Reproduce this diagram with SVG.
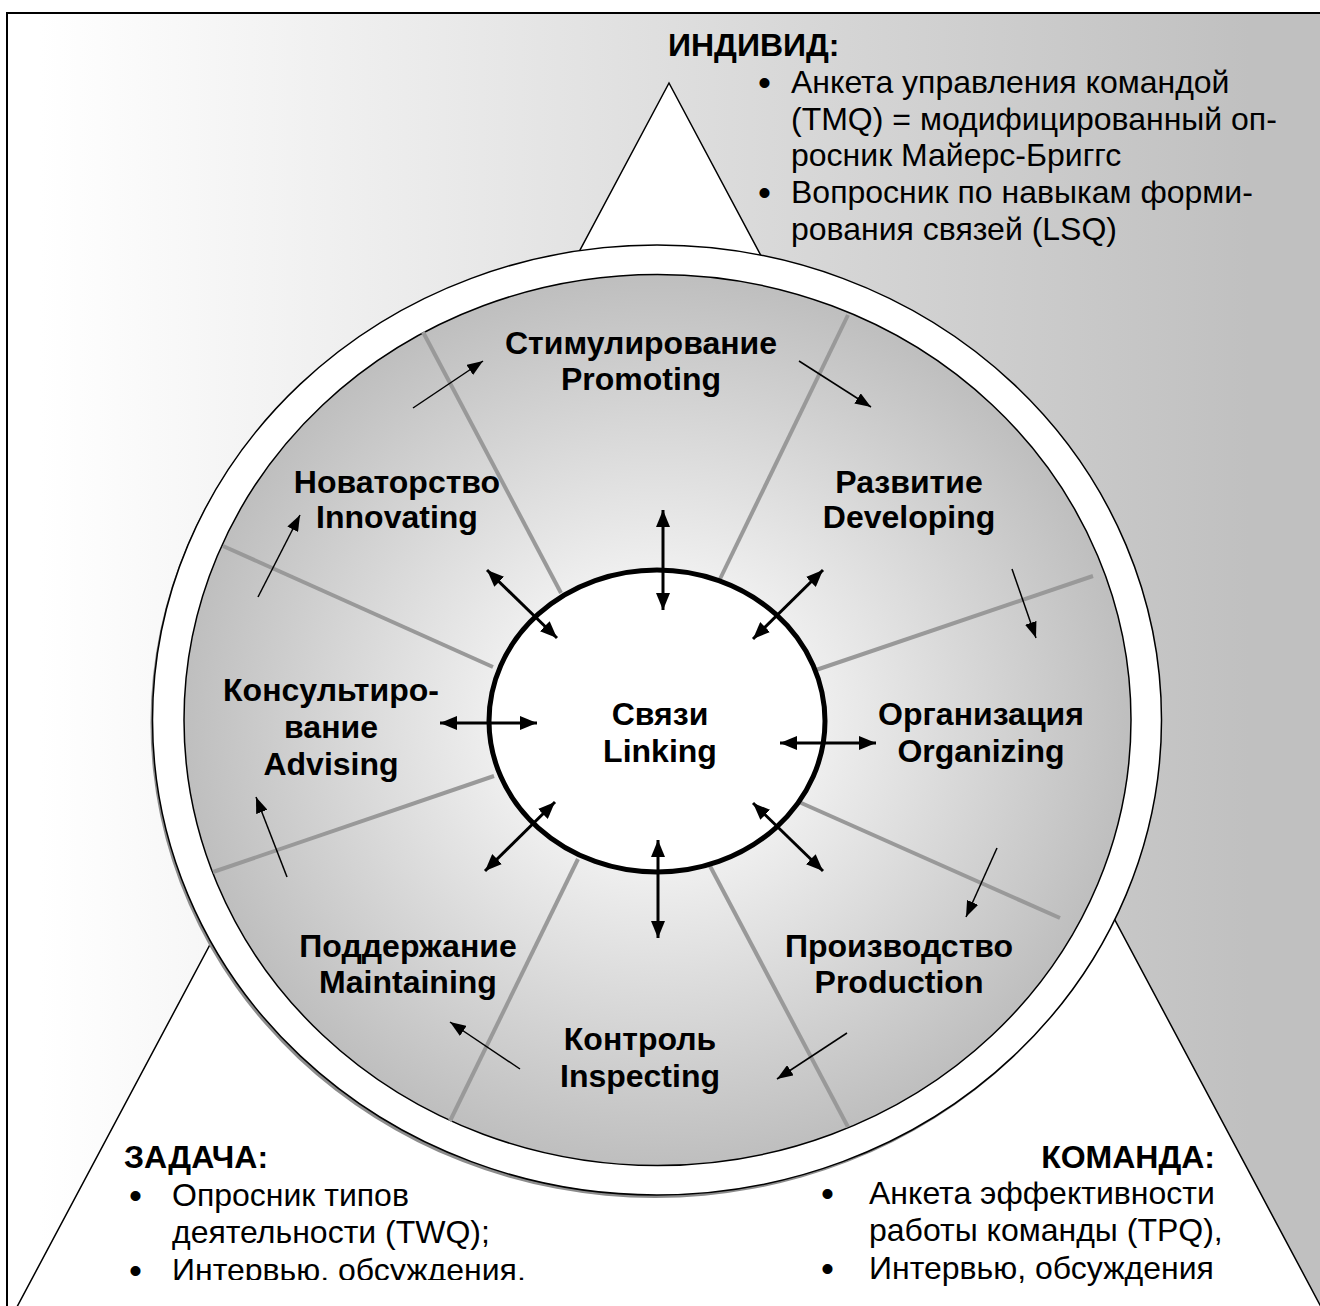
<svg xmlns="http://www.w3.org/2000/svg" width="1320" height="1306" viewBox="0 0 1320 1306">
  <style>
    .lbl { font-family: "Liberation Sans", Arial, sans-serif; font-weight: bold; font-size: 32px; fill: #000; text-anchor: middle; }
    .hdr { font-family: "Liberation Sans", Arial, sans-serif; font-weight: bold; font-size: 32px; fill: #000; }
    .txt { font-family: "Liberation Sans", Arial, sans-serif; font-size: 32px; fill: #000; }
    .bul { font-family: "Liberation Sans", Arial, sans-serif; font-size: 37px; fill: #000; }
    .spoke { stroke: #999999; stroke-width: 4; fill: none; }
    .flow { stroke: #000; stroke-width: 1.5; fill: none; marker-end: url(#head1); }
    .link { stroke: #000; stroke-width: 3; fill: none; marker-start: url(#head2); marker-end: url(#head2); }
  </style>
  <defs>
    <linearGradient id="bg" gradientUnits="userSpaceOnUse" x1="40" y1="0" x2="1250" y2="0">
      <stop offset="0" stop-color="#ffffff"/>
      <stop offset="1" stop-color="#c0c0c0"/>
    </linearGradient>
    <radialGradient id="disk" gradientUnits="userSpaceOnUse" cx="657" cy="720" r="470" gradientTransform="translate(657 720) scale(1 0.94) translate(-657 -720)">
      <stop offset="0" stop-color="#ffffff"/>
      <stop offset="0.3" stop-color="#f2f2f2"/>
      <stop offset="1" stop-color="#bfbfbf"/>
    </radialGradient>
    <marker id="head1" markerUnits="userSpaceOnUse" markerWidth="16" markerHeight="12" refX="16" refY="6" orient="auto">
      <path d="M0,0 L16,6 L0,12 z" fill="#000"/>
    </marker>
    <marker id="head2" markerUnits="userSpaceOnUse" markerWidth="17" markerHeight="14" refX="17" refY="7" orient="auto-start-reverse">
      <path d="M0,0 L17,7 L0,14 z" fill="#000"/>
    </marker>
    <clipPath id="cutTask">
      <rect x="0" y="0" width="660" height="1280"/>
    </clipPath>
  </defs>

  <g id="background">
    <rect x="7" y="13" width="1340" height="1320" fill="url(#bg)" stroke="#000" stroke-width="2"/>
  </g>

  <g id="triangle">
    <polygon points="669,83 10,1320 1328,1320" fill="#ffffff" stroke="#000" stroke-width="1.5"/>
  </g>

  <g id="wheel">
    <ellipse cx="655" cy="723" rx="504.5" ry="475" fill="#8c8c8c"/>
    <ellipse cx="657" cy="720" rx="504.5" ry="475" fill="#ffffff" stroke="#000" stroke-width="1.5"/>
    <ellipse cx="657.5" cy="720" rx="473.5" ry="445.5" fill="url(#disk)" stroke="#000" stroke-width="1.5"/>
  </g>

  <g id="spokes">
    <line class="spoke" x1="423" y1="332" x2="561" y2="593"/>
    <line class="spoke" x1="848" y1="315" x2="720" y2="579"/>
    <line class="spoke" x1="1093" y1="576" x2="816" y2="670"/>
    <line class="spoke" x1="1060" y1="918" x2="799" y2="802"/>
    <line class="spoke" x1="848" y1="1127" x2="710" y2="866"/>
    <line class="spoke" x1="450" y1="1121" x2="578" y2="859"/>
    <line class="spoke" x1="213" y1="872" x2="494" y2="776"/>
    <line class="spoke" x1="223" y1="546" x2="493" y2="667"/>
  </g>

  <g id="linking">
    <ellipse cx="657" cy="721" rx="168" ry="151" fill="#ffffff" stroke="#000" stroke-width="5"/>
    <text class="lbl" x="660" y="725">Связи</text>
    <text class="lbl" x="660" y="762">Linking</text>
  </g>

  <g id="connectors">
    <line class="flow" x1="413" y1="408" x2="483" y2="361"/>
    <line class="flow" x1="799" y1="361" x2="871" y2="407"/>
    <line class="flow" x1="1012" y1="569" x2="1036" y2="638"/>
    <line class="flow" x1="997" y1="848" x2="966" y2="917"/>
    <line class="flow" x1="847" y1="1033" x2="777" y2="1079"/>
    <line class="flow" x1="520" y1="1069" x2="450" y2="1022"/>
    <line class="flow" x1="287" y1="877" x2="256" y2="797"/>
    <line class="flow" x1="258" y1="597" x2="300" y2="515"/>

    <line class="link" x1="663" y1="510" x2="663" y2="610"/>
    <line class="link" x1="823" y1="570" x2="753" y2="639"/>
    <line class="link" x1="780" y1="743" x2="876" y2="743"/>
    <line class="link" x1="753" y1="803" x2="823" y2="871"/>
    <line class="link" x1="658" y1="840" x2="658" y2="938"/>
    <line class="link" x1="555" y1="802" x2="485" y2="871"/>
    <line class="link" x1="440" y1="723" x2="537" y2="723"/>
    <line class="link" x1="487" y1="570" x2="557" y2="638"/>
  </g>

  <g id="promoting">
    <text class="lbl" x="641" y="354">Стимулирование</text>
    <text class="lbl" x="641" y="390">Promoting</text>
  </g>
  <g id="developing">
    <text class="lbl" x="909" y="493">Развитие</text>
    <text class="lbl" x="909" y="528">Developing</text>
  </g>
  <g id="organizing">
    <text class="lbl" x="981" y="725">Организация</text>
    <text class="lbl" x="981" y="762">Organizing</text>
  </g>
  <g id="production">
    <text class="lbl" x="899" y="957">Производство</text>
    <text class="lbl" x="899" y="993">Production</text>
  </g>
  <g id="inspecting">
    <text class="lbl" x="640" y="1050">Контроль</text>
    <text class="lbl" x="640" y="1087">Inspecting</text>
  </g>
  <g id="maintaining">
    <text class="lbl" x="408" y="957">Поддержание</text>
    <text class="lbl" x="408" y="993">Maintaining</text>
  </g>
  <g id="advising">
    <text class="lbl" x="331" y="701">Консультиро-</text>
    <text class="lbl" x="331" y="738">вание</text>
    <text class="lbl" x="331" y="775">Advising</text>
  </g>
  <g id="innovating">
    <text class="lbl" x="397" y="493">Новаторство</text>
    <text class="lbl" x="397" y="528">Innovating</text>
  </g>

  <g id="individual">
    <text class="hdr" x="668" y="56">ИНДИВИД:</text>
    <text class="bul" x="758" y="95">•</text>
    <text class="txt" x="791" y="93">Анкета управления командой</text>
    <text class="txt" x="791" y="130">(TMQ) = модифицированный оп-</text>
    <text class="txt" x="791" y="166">росник Майерс-Бриггс</text>
    <text class="bul" x="758" y="205">•</text>
    <text class="txt" x="791" y="203">Вопросник по навыкам форми-</text>
    <text class="txt" x="791" y="240">рования связей (LSQ)</text>
  </g>

  <g id="task" clip-path="url(#cutTask)">
    <text class="hdr" x="124" y="1168">ЗАДАЧА:</text>
    <text class="bul" x="129" y="1208">•</text>
    <text class="txt" x="172" y="1206">Опросник типов</text>
    <text class="txt" x="172" y="1243">деятельности (TWQ);</text>
    <text class="bul" x="129" y="1283">•</text>
    <text class="txt" x="172" y="1281">Интервью, обсуждения.</text>
  </g>

  <g id="team">
    <text class="hdr" x="1215" y="1168" text-anchor="end">КОМАНДА:</text>
    <text class="bul" x="821" y="1206">•</text>
    <text class="txt" x="869" y="1204">Анкета эффективности</text>
    <text class="txt" x="869" y="1241">работы команды (TPQ),</text>
    <text class="bul" x="821" y="1281">•</text>
    <text class="txt" x="869" y="1279">Интервью, обсуждения</text>
  </g>
</svg>
